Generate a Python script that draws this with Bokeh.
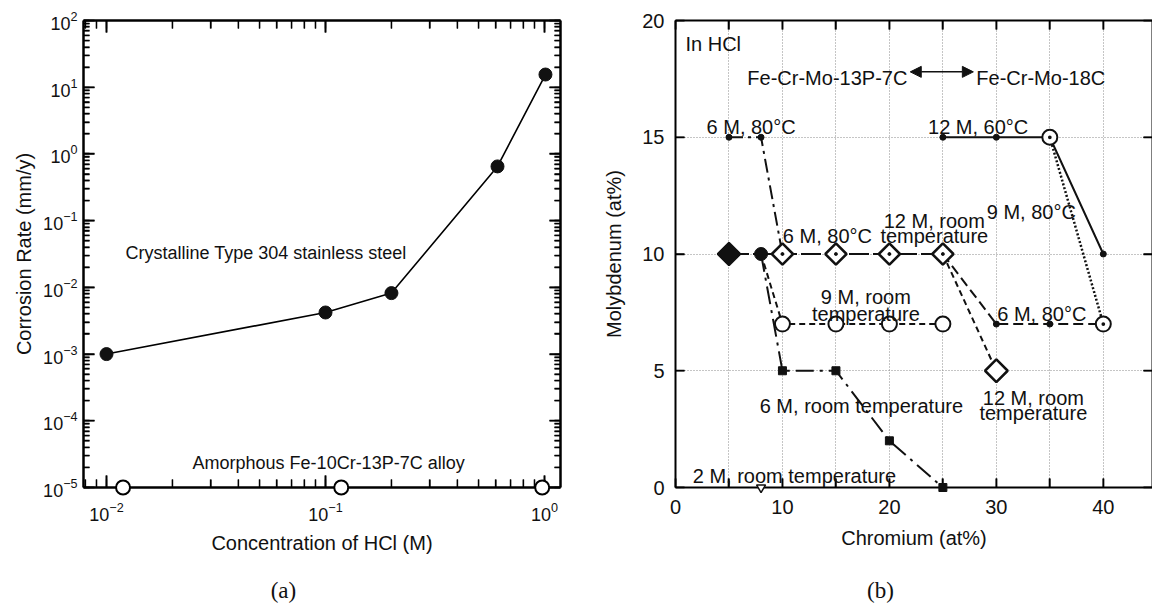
import numpy as np
from bokeh.plotting import figure
from bokeh.layouts import row
from bokeh.models import (Range1d, LogAxis, LinearAxis, LogTicker, FixedTicker,
                          CustomJSTickFormatter, Arrow, NormalHead)
from bokeh.core.properties import value
from bokeh.embed import file_html
from bokeh.resources import INLINE

FONT = "Liberation Sans"
SERIF = "Liberation Serif"
K = "#111111"

# ---------------- (a) corrosion rate in HCl ----------------
hcl_crystalline = [0.01, 0.1, 0.2, 0.61, 1.01]
rate_crystalline = [1.0e-3, 4.2e-3, 8.2e-3, 0.65, 15.5]
hcl_amorphous = [0.0119, 0.118, 0.976]
rate_amorphous = [1e-5, 1e-5, 1e-5]
hcl_major = [1e-2, 1e-1, 1e0]
rate_major = [1e-5, 1e-4, 1e-3, 1e-2, 1e-1, 1e0, 1e1, 1e2]

# ---------------- (b) passivation limits, Cr vs Mo (at%) ----------------
# Fe-Cr-Mo-13P-7C
cr_6m80_p = [5, 8, 10]
mo_6m80_p = [15, 15, 10]
cr_12mrt_p = [5, 8, 10, 15, 20, 25]
mo_12mrt_p = [10, 10, 10, 10, 10, 10]
cr_9mrt_p = [8, 10, 15, 20, 25]
mo_9mrt_p = [10, 7, 7, 7, 7]
cr_6mrt_p = [8, 10, 15, 20, 25]
mo_6mrt_p = [10, 5, 5, 2, 0]
cr_2mrt_p = [8]
mo_2mrt_p = [0]
# Fe-Cr-Mo-18C
cr_12m60_c = [25, 30, 35, 40]
mo_12m60_c = [15, 15, 15, 10]
cr_9m80_c = [35, 40]
mo_9m80_c = [15, 7]
cr_6m80_c = [25, 30, 35, 40]
mo_6m80_c = [10, 7, 7, 7]
cr_12mrt_c = [25, 30]
mo_12mrt_c = [10, 5]

cr_ticks = [0, 5, 10, 15, 20, 25, 30, 35, 40, 45]
mo_ticks = [0, 5, 10, 15, 20]

BLANK = CustomJSTickFormatter(code="return '';")


def style_axis(ax, label_size, labels=True, major_in=10, minor_in=6, lw=2.5):
    ax.axis_line_width = lw
    ax.axis_line_color = "black"
    ax.major_tick_in = major_in
    ax.major_tick_out = 0
    ax.minor_tick_in = minor_in
    ax.minor_tick_out = 0
    ax.major_tick_line_width = 1.6
    ax.minor_tick_line_width = 1.3
    ax.major_tick_line_color = "black"
    ax.minor_tick_line_color = "black"
    ax.major_label_text_font = FONT
    ax.major_label_text_font_size = label_size
    ax.major_label_text_color = K
    ax.axis_label_text_font = FONT
    ax.axis_label_text_font_style = "normal"
    ax.axis_label_text_font_size = "20px"
    ax.axis_label_text_color = K
    if not labels:
        ax.formatter = BLANK
        ax.major_label_text_font_size = "2px"
        ax.major_label_standoff = 0


def put_text(p, xs, ys, texts, size, align="center", font=FONT, baseline="alphabetic"):
    p.text(x=xs, y=ys, text=texts, text_font=value(font), text_font_size=size,
           text_color=K, text_align=align, text_baseline=baseline, level="overlay")


def edge_ticks(p, xs, ys, length, vertical, width=1.5):
    # a dash centred on the frame edge; the frame clips away the outer half
    p.scatter(xs, ys, marker="dash", size=2 * length, angle=np.pi / 2 if vertical else 0.0,
              line_color="black", line_width=width)


# ================= panel (a) =================
X0, X1 = 10 ** -2.105, 10 ** 0.073
Y0, Y1 = 1e-5, 1e2
p1 = figure(width=600, height=606, x_axis_type="log", y_axis_type="log",
            x_range=Range1d(X0, X1), y_range=Range1d(Y0, Y1),
            output_backend="svg", toolbar_location=None,
            min_border_left=83, min_border_right=40, min_border_top=20,
            min_border_bottom=119, background_fill_color="white",
            border_fill_color="white")
p1.grid.visible = False
p1.outline_line_color = None   # the four axes draw the frame

xt1 = LogTicker(desired_num_ticks=4, num_minor_ticks=10)
yt1 = LogTicker(desired_num_ticks=10, num_minor_ticks=10)

xa = p1.below[0]
xa.ticker = xt1
style_axis(xa, "18px", major_in=12, minor_in=8)
xa.axis_label = "Concentration of HCl (M)"
xa.major_label_standoff = 14
xa.axis_label_standoff = 8

ya = p1.left[0]
ya.ticker = yt1
style_axis(ya, "18px", major_in=11, minor_in=6)
ya.axis_label = "Corrosion Rate (mm/y)"
ya.major_label_standoff = 6
ya.axis_label_standoff = 5

xa_top = LogAxis(ticker=xt1)
style_axis(xa_top, "18px", labels=False, major_in=12, minor_in=8)
p1.add_layout(xa_top, "above")
ya_right = LogAxis(ticker=yt1)
style_axis(ya_right, "18px", labels=False, major_in=11, minor_in=6)
p1.add_layout(ya_right, "right")

# inward tick marks on all four sides of the log frame
hcl_minor = [m * d for d in (1e-3, 1e-2, 1e-1) for m in range(2, 10)]
rate_minor = [m * d for d in rate_major[:-1] for m in range(2, 10)]
for yy in (Y0, Y1):
    edge_ticks(p1, hcl_major, [yy] * len(hcl_major), 12, True, 1.6)
    edge_ticks(p1, hcl_minor, [yy] * len(hcl_minor), 8, True, 1.3)
for xx in (X0, X1):
    edge_ticks(p1, [xx] * len(rate_major), rate_major, 11, False, 1.6)
    edge_ticks(p1, [xx] * len(rate_minor), rate_minor, 6, False, 1.3)

# crystalline steel: filled circles joined by a line
p1.line(hcl_crystalline, rate_crystalline, line_color="black", line_width=1.6)
p1.scatter(hcl_crystalline, rate_crystalline, marker="circle", size=13,
           fill_color=K, line_color=K)
# amorphous alloy: open circles at the detection limit, drawn over the axis
p1.scatter(hcl_amorphous, rate_amorphous, marker="circle", size=14,
           fill_color="white", line_color="black", line_width=2, level="overlay")

put_text(p1, [10 ** -1.913], [10 ** -1.478], ["Crystalline Type 304 stainless steel"],
         "18px", align="left")
put_text(p1, [10 ** -1.607], [10 ** -4.64], ["Amorphous Fe-10Cr-13P-7C alloy"],
         "18px", align="left")
# panel caption below the axis title
put_text(p1, [10 ** -1.192], [10 ** -6.55], ["(a)"], "23px", font=SERIF, baseline="middle")

# ================= panel (b) =================
CR1, MO1 = 44.6, 20
p2 = figure(width=552, height=606, x_range=Range1d(0, CR1), y_range=Range1d(0, MO1),
            output_backend="svg", toolbar_location=None,
            min_border_left=75, min_border_right=0, min_border_top=20,
            min_border_bottom=119, background_fill_color="white",
            border_fill_color="white")
p2.outline_line_color = None

p2.xgrid.ticker = FixedTicker(ticks=[5, 10, 15, 20, 25, 30, 35, 40])
p2.ygrid.ticker = FixedTicker(ticks=[5, 10, 15])
p2.grid.grid_line_color = "#8a8a8a"
p2.grid.grid_line_dash = "1 2"
p2.grid.grid_line_width = 1

cr_fmt = CustomJSTickFormatter(code="return (tick % 10 == 0) ? tick.toString() : '';")
xb = p2.below[0]
xb.ticker = FixedTicker(ticks=cr_ticks)
xb.formatter = cr_fmt
style_axis(xb, "20px", major_in=9, minor_in=0, lw=2)
xb.axis_label = "Chromium (at%)"
xb.major_label_standoff = 12
xb.axis_label_standoff = 10

yb = p2.left[0]
yb.ticker = FixedTicker(ticks=mo_ticks)
style_axis(yb, "20px", major_in=9, minor_in=0, lw=2)
yb.axis_label = "Molybdenum (at%)"
yb.major_label_standoff = 11
yb.axis_label_standoff = 14

xb_top = LinearAxis(ticker=FixedTicker(ticks=cr_ticks))
style_axis(xb_top, "20px", labels=False, major_in=9, minor_in=0, lw=2)
p2.add_layout(xb_top, "above")
yb_right = LinearAxis(ticker=FixedTicker(ticks=mo_ticks))
style_axis(yb_right, "20px", labels=False, major_in=9, minor_in=0, lw=2)
p2.add_layout(yb_right, "right")

for yy in (0, MO1):
    edge_ticks(p2, cr_ticks, [yy] * len(cr_ticks), 9, True)
for xx in (0, CR1):
    edge_ticks(p2, [xx] * len(mo_ticks), mo_ticks, 9, False)

# lines
p2.line(cr_6m80_p, mo_6m80_p, line_color=K, line_width=2, line_dash="14 5 3 5")
p2.line(cr_12mrt_p, mo_12mrt_p, line_color=K, line_width=2.2, line_dash="20 4")
p2.line(cr_9mrt_p, mo_9mrt_p, line_color=K, line_width=2, line_dash="6 4")
p2.line(cr_6mrt_p, mo_6mrt_p, line_color=K, line_width=2, line_dash="18 6 3 6")
p2.line(cr_12m60_c, mo_12m60_c, line_color=K, line_width=2)
p2.line(cr_9m80_c, mo_9m80_c, line_color=K, line_width=2.5, line_dash="2 2")
p2.line(cr_6m80_c, mo_6m80_c, line_color=K, line_width=2, line_dash="10 5")
p2.line(cr_12mrt_c, mo_12mrt_c, line_color=K, line_width=2, line_dash="6 4")

# markers
p2.scatter(cr_6m80_p[:2], mo_6m80_p[:2], marker="circle", size=6, fill_color=K, line_color=K)
p2.scatter(cr_12mrt_p[:1], mo_12mrt_p[:1], marker="square", angle=np.pi / 4, size=16,
           fill_color=K, line_color=K, line_width=2)
p2.scatter(cr_12mrt_p[1:2], mo_12mrt_p[1:2], marker="circle", size=13, fill_color=K, line_color=K)
p2.scatter(cr_12mrt_p[2:], mo_12mrt_p[2:], marker="square_dot", angle=np.pi / 4, size=15,
           fill_color="white", line_color=K, line_width=2.5)
p2.scatter(cr_9mrt_p[1:], mo_9mrt_p[1:], marker="circle", size=15,
           fill_color="white", line_color=K, line_width=2)
p2.scatter(cr_6mrt_p[1:], mo_6mrt_p[1:], marker="square", size=8, fill_color=K, line_color=K,
           level="overlay")
p2.scatter(cr_2mrt_p, mo_2mrt_p, marker="inverted_triangle", size=9,
           fill_color="white", line_color=K, line_width=1.5, level="overlay")
p2.scatter([cr_12m60_c[i] for i in (0, 1, 3)], [mo_12m60_c[i] for i in (0, 1, 3)],
           marker="circle", size=6, fill_color=K, line_color=K)
p2.scatter(cr_12m60_c[2:3], mo_12m60_c[2:3], marker="circle_dot", size=15,
           fill_color="white", line_color=K, line_width=2)
p2.scatter(cr_9m80_c[1:], mo_9m80_c[1:], marker="circle_dot", size=15,
           fill_color="white", line_color=K, line_width=2)
p2.scatter(cr_6m80_c[1:3], mo_6m80_c[1:3], marker="circle", size=6, fill_color=K, line_color=K)
p2.scatter(cr_12mrt_c[1:], mo_12mrt_c[1:], marker="square", angle=np.pi / 4, size=16,
           fill_color="white", line_color=K, line_width=2.5)

# condition labels (centre x, baseline y)
centred = [
    (7.07, 15.45, "6 M, 80°C"),
    (28.3, 15.45, "12 M, 60°C"),
    (24.2, 11.4, "12 M, room"),
    (24.2, 10.75, "temperature"),
    (33.27, 11.8, "9 M, 80°C"),
    (14.2, 10.75, "6 M, 80°C"),
    (17.8, 8.14, "9 M, room"),
    (17.8, 7.45, "temperature"),
    (34.25, 7.45, "6 M, 80°C"),
    (17.38, 3.51, "6 M, room temperature"),
    (33.46, 3.85, "12 M, room"),
    (33.46, 3.17, "temperature"),
    (11.12, 0.51, "2 M, room temperature"),
]
put_text(p2, [c[0] for c in centred], [c[1] for c in centred], [c[2] for c in centred], "20px")
put_text(p2, [0.93, 28.13], [19.0, 17.52], ["In HCl", "Fe-Cr-Mo-18C"], "20px", align="left")
put_text(p2, [21.68], [17.52], ["Fe-Cr-Mo-13P-7C"], "20px", align="right")
p2.add_layout(Arrow(x_start=21.95, y_start=17.8, x_end=27.85, y_end=17.8,
                    line_color=K, line_width=1.5,
                    start=NormalHead(size=11, fill_color=K, line_color=K),
                    end=NormalHead(size=11, fill_color=K, line_color=K)))
# panel caption
put_text(p2, [19.16], [-4.41], ["(b)"], "23px", font=SERIF, baseline="middle")

layout = row(p1, p2)
open("out.html", "w").write(file_html(layout, INLINE))
